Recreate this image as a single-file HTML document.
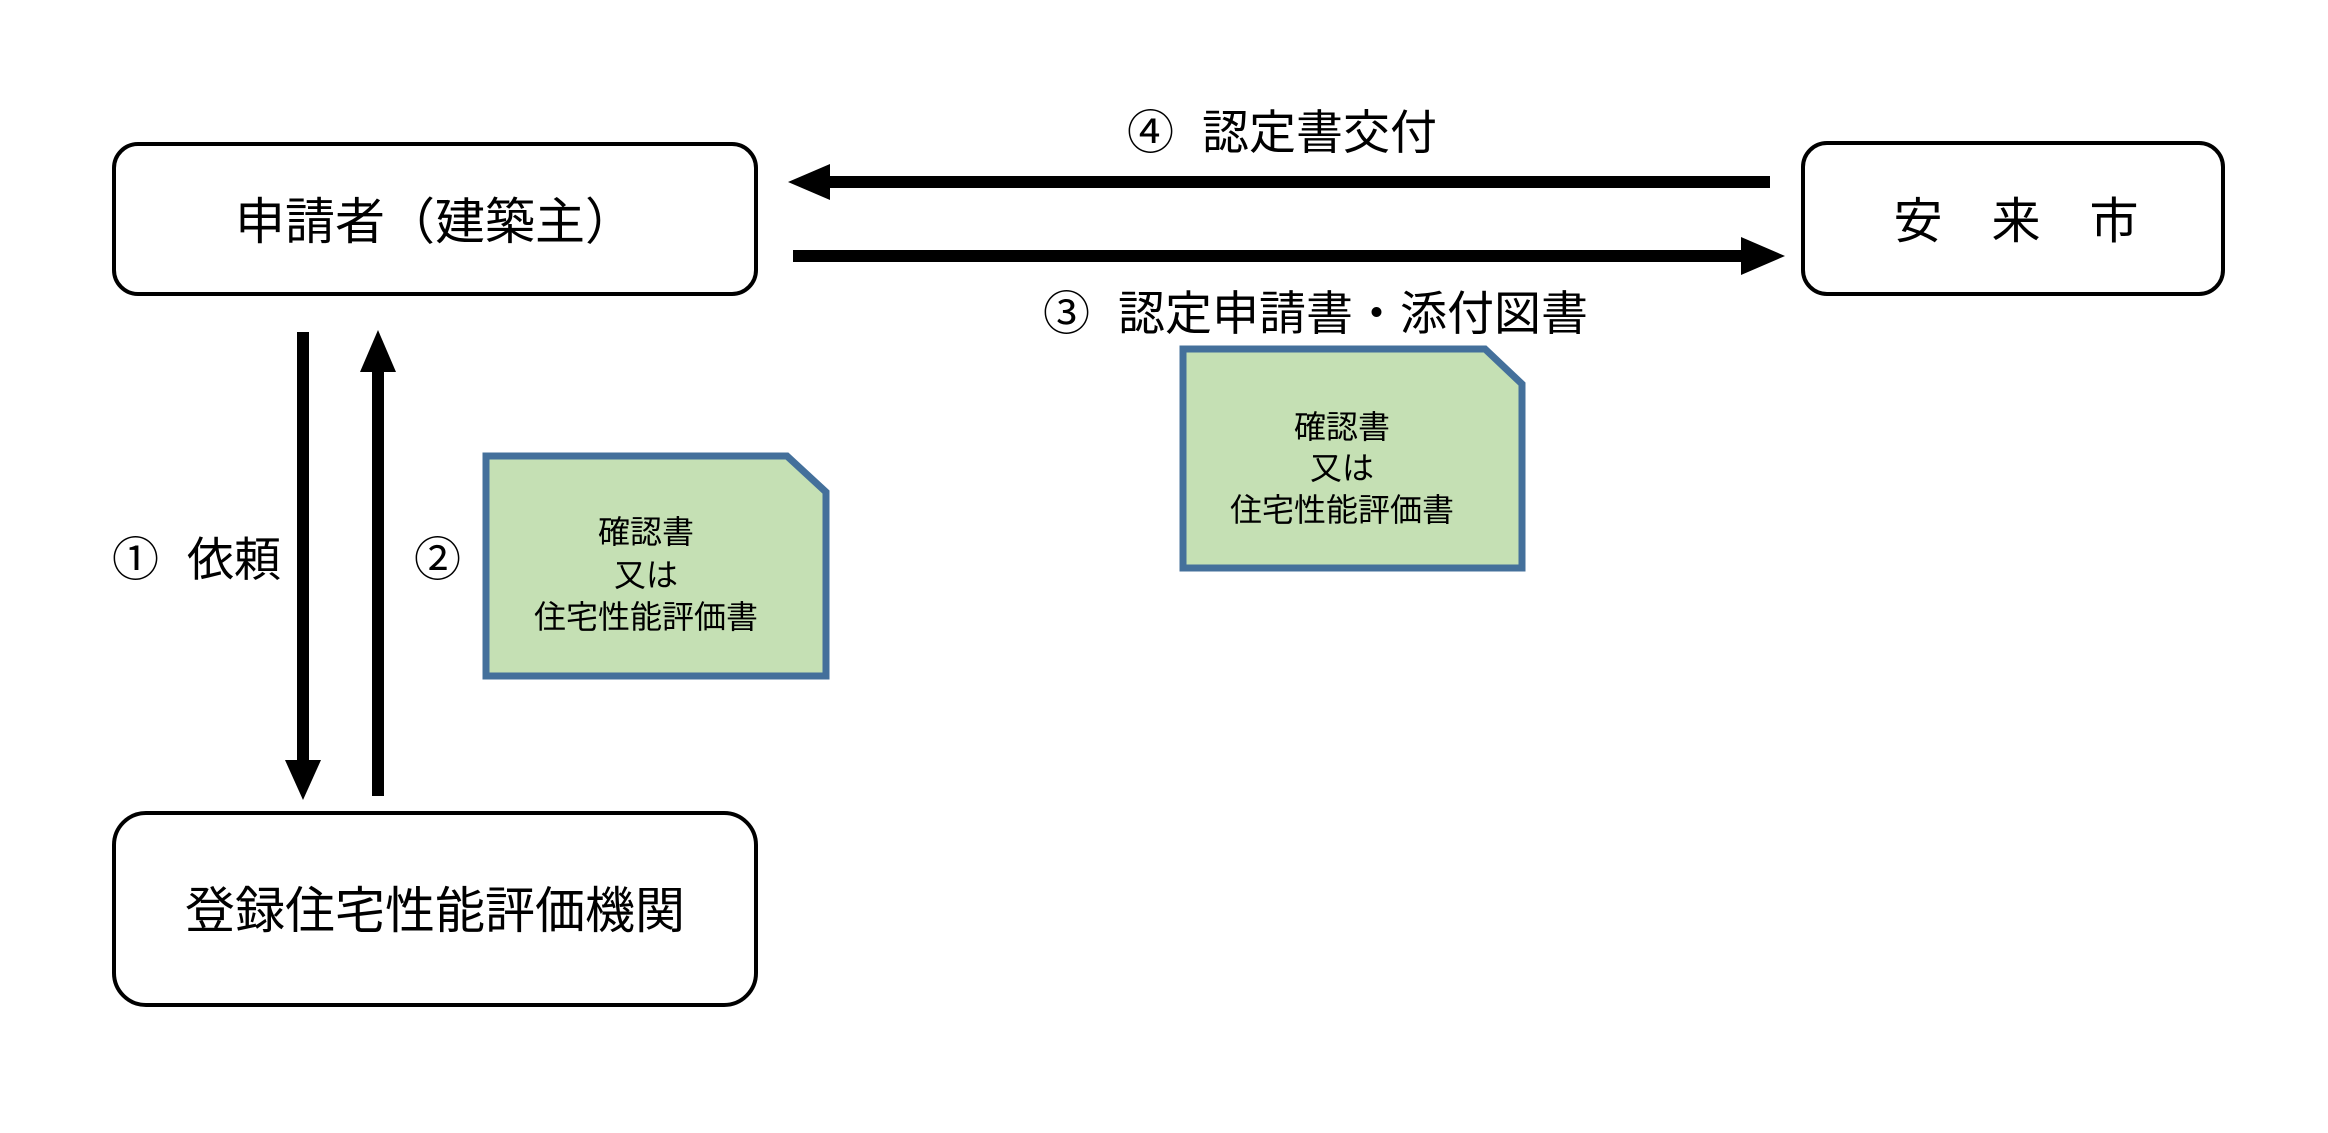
<!DOCTYPE html>
<html><head><meta charset="utf-8"><style>
html,body{margin:0;padding:0;background:#fff;width:2328px;height:1133px;overflow:hidden}
svg{display:block}
text{font-family:"Liberation Sans","Noto Sans CJK JP",sans-serif;fill:#000}
</style></head><body>
<svg width="2328" height="1133" viewBox="0 0 2328 1133" xmlns="http://www.w3.org/2000/svg">
<rect x="114" y="144" width="642" height="150" rx="24" fill="#fff" stroke="#000" stroke-width="4"/>
<text x="435" y="239" font-size="50" text-anchor="middle">申請者（建築主）</text>
<rect x="1803" y="143" width="420" height="151" rx="24" fill="#fff" stroke="#000" stroke-width="4"/>
<text x="2016" y="238" font-size="49" text-anchor="middle">安　来　市</text>
<rect x="114" y="813" width="642" height="192" rx="32" fill="#fff" stroke="#000" stroke-width="4"/>
<text x="435" y="928" font-size="50" text-anchor="middle">登録住宅性能評価機関</text>
<!-- horizontal arrows -->
<rect x="828" y="176" width="942" height="12" fill="#000"/>
<polygon points="788,182 830,164 830,200" fill="#000"/>
<rect x="793" y="250" width="950" height="12" fill="#000"/>
<polygon points="1785,256 1741,237 1741,275" fill="#000"/>
<!-- vertical arrows -->
<rect x="297" y="332" width="12" height="430" fill="#000"/>
<polygon points="303,800 285,760 321,760" fill="#000"/>
<rect x="372" y="370" width="12" height="426" fill="#000"/>
<polygon points="378,330 360,372 396,372" fill="#000"/>
<text x="1127" y="149" font-size="47">④<tspan dx="28">認定書交付</tspan></text>
<text x="1043" y="330" font-size="47">③<tspan dx="28">認定申請書・添付図書</tspan></text>
<text x="112" y="576" font-size="47">①<tspan dx="28">依頼</tspan></text>
<text x="414" y="576" font-size="47">②</text>
<!-- doc 1 -->
<polygon points="486,456 787,456 826,492 826,676 486,676" fill="#c5e0b4" stroke="#44709b" stroke-width="7"/>
<text x="646" y="543" font-size="32" text-anchor="middle">確認書</text>
<text x="646" y="586" font-size="32" text-anchor="middle">又は</text>
<text x="646" y="628" font-size="32" text-anchor="middle">住宅性能評価書</text>
<!-- doc 2 -->
<polygon points="1183,349 1485,349 1522,384 1522,568 1183,568" fill="#c5e0b4" stroke="#44709b" stroke-width="7"/>
<text x="1342" y="438" font-size="32" text-anchor="middle">確認書</text>
<text x="1342" y="479" font-size="32" text-anchor="middle">又は</text>
<text x="1342" y="521" font-size="32" text-anchor="middle">住宅性能評価書</text>
</svg>
</body></html>
